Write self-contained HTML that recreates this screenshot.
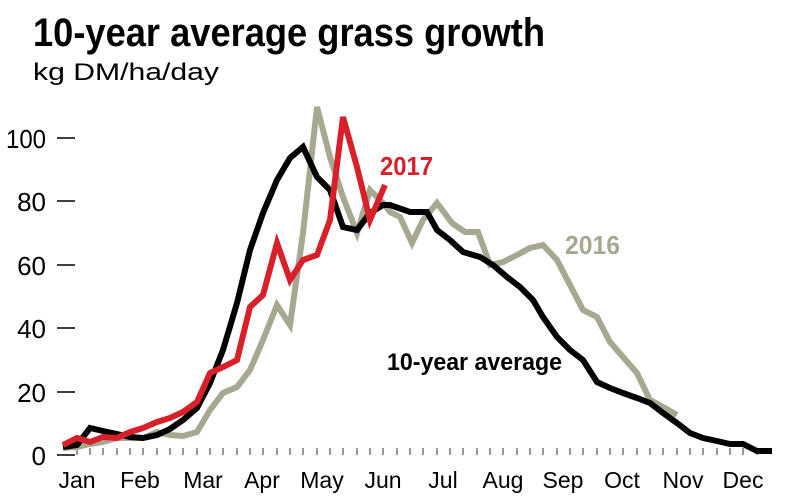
<!DOCTYPE html>
<html><head><meta charset="utf-8"><style>
html,body{margin:0;padding:0;background:#fff;}
svg{display:block;}
text{font-family:"Liberation Sans Narrow","Liberation Sans",sans-serif;}
</style></head><body>
<svg width="790" height="500" viewBox="0 0 790 500">
<text x="33" y="46" font-size="40" font-weight="bold" fill="#000" textLength="512" lengthAdjust="spacingAndGlyphs">10-year average grass growth</text>
<text x="33" y="80" font-size="24" fill="#000" textLength="186" lengthAdjust="spacingAndGlyphs">kg DM/ha/day</text>
<g font-size="26" fill="#000" text-anchor="end">
<text x="46" y="148" textLength="40" lengthAdjust="spacingAndGlyphs">100</text><text x="46" y="211">80</text><text x="46" y="275">60</text>
<text x="46" y="338">40</text><text x="46" y="402">20</text><text x="46" y="465">0</text>
</g>
<g stroke="#000" stroke-width="1.5">
<line x1="57" y1="138" x2="75" y2="138"/><line x1="57" y1="201" x2="75" y2="201"/>
<line x1="57" y1="265" x2="75" y2="265"/><line x1="57" y1="328" x2="75" y2="328"/>
<line x1="57" y1="392" x2="75" y2="392"/><line x1="57" y1="455" x2="75" y2="455"/>
</g>
<g stroke="#333" stroke-width="1">
<line x1="77" y1="448" x2="77" y2="455"/><line x1="90" y1="448" x2="90" y2="455"/><line x1="103" y1="448" x2="103" y2="455"/><line x1="117" y1="448" x2="117" y2="455"/><line x1="130" y1="448" x2="130" y2="455"/><line x1="143" y1="448" x2="143" y2="455"/><line x1="157" y1="448" x2="157" y2="455"/><line x1="170" y1="448" x2="170" y2="455"/><line x1="183" y1="448" x2="183" y2="455"/><line x1="197" y1="448" x2="197" y2="455"/><line x1="210" y1="448" x2="210" y2="455"/><line x1="223" y1="448" x2="223" y2="455"/><line x1="237" y1="448" x2="237" y2="455"/><line x1="250" y1="448" x2="250" y2="455"/><line x1="263" y1="448" x2="263" y2="455"/><line x1="277" y1="448" x2="277" y2="455"/><line x1="290" y1="448" x2="290" y2="455"/><line x1="303" y1="448" x2="303" y2="455"/><line x1="317" y1="448" x2="317" y2="455"/><line x1="330" y1="448" x2="330" y2="455"/><line x1="343" y1="448" x2="343" y2="455"/><line x1="357" y1="448" x2="357" y2="455"/><line x1="370" y1="448" x2="370" y2="455"/><line x1="383" y1="448" x2="383" y2="455"/><line x1="397" y1="448" x2="397" y2="455"/><line x1="410" y1="448" x2="410" y2="455"/><line x1="423" y1="448" x2="423" y2="455"/><line x1="437" y1="448" x2="437" y2="455"/><line x1="450" y1="448" x2="450" y2="455"/><line x1="463" y1="448" x2="463" y2="455"/><line x1="477" y1="448" x2="477" y2="455"/><line x1="490" y1="448" x2="490" y2="455"/><line x1="503" y1="448" x2="503" y2="455"/><line x1="517" y1="448" x2="517" y2="455"/><line x1="530" y1="448" x2="530" y2="455"/><line x1="543" y1="448" x2="543" y2="455"/><line x1="557" y1="448" x2="557" y2="455"/><line x1="570" y1="448" x2="570" y2="455"/><line x1="583" y1="448" x2="583" y2="455"/><line x1="597" y1="448" x2="597" y2="455"/><line x1="610" y1="448" x2="610" y2="455"/><line x1="623" y1="448" x2="623" y2="455"/><line x1="637" y1="448" x2="637" y2="455"/><line x1="650" y1="448" x2="650" y2="455"/><line x1="663" y1="448" x2="663" y2="455"/><line x1="677" y1="448" x2="677" y2="455"/><line x1="690" y1="448" x2="690" y2="455"/><line x1="703" y1="448" x2="703" y2="455"/><line x1="717" y1="448" x2="717" y2="455"/><line x1="730" y1="448" x2="730" y2="455"/><line x1="743" y1="448" x2="743" y2="455"/><line x1="757" y1="448" x2="757" y2="455"/>
</g>
<g font-size="23" fill="#000" text-anchor="middle">
<text x="77" y="488">Jan</text><text x="140" y="488">Feb</text><text x="203" y="488">Mar</text>
<text x="262" y="488">Apr</text><text x="322" y="488">May</text><text x="383" y="488">Jun</text>
<text x="443" y="488">Jul</text><text x="503" y="488">Aug</text><text x="563" y="488">Sep</text>
<text x="622" y="488">Oct</text><text x="683" y="488">Nov</text><text x="743" y="488">Dec</text>
</g>
<polyline fill="none" stroke="#a8a890" stroke-width="6" points="63,448 77,447 90,444 103,442 117,438 130,438 143,438 157,432 170,435 183,436 197,432 210,410 223,393 237,387 250,370 263,340 277,305 290,325 303,233 317,107 330,157 343,197 357,233 370,190 383,203 390,212 400,217 412,243 423,220 437,203 452,223 465,232 478,232 490,265 503,262 517,255 530,248 543,245 557,260 570,285 583,310 597,317 610,342 623,357 637,373 650,400 663,407 677,415"/>
<polyline fill="none" stroke="#000" stroke-width="6" points="63,447 77,445 90,428 103,431 117,434 130,437 143,438 157,435 170,429 183,420 197,408 210,383 223,350 237,303 250,250 263,213 277,180 290,158 303,147 317,177 330,190 343,227 357,230 370,213 383,205 390,205 410,212 427,212 437,230 450,240 463,252 480,257 493,265 507,277 520,287 533,300 543,317 557,337 570,350 583,360 597,382 610,388 623,393 637,398 650,403 663,413 677,423 690,433 703,438 717,441 730,444 743,444 757,451 772,451"/>
<polyline fill="none" stroke="#d8202a" stroke-width="6" points="63,445 77,438 90,442 103,437 117,438 130,432 143,428 157,422 170,418 183,412 197,402 210,373 223,367 237,360 250,307 263,295 277,243 290,280 303,260 317,255 330,220 343,117 357,167 370,220 385,185"/>
<text x="380" y="175" font-size="26" font-weight="bold" fill="#d8202a" textLength="53" lengthAdjust="spacingAndGlyphs">2017</text>
<text x="565" y="254" font-size="26" font-weight="bold" fill="#a8a890" textLength="55" lengthAdjust="spacingAndGlyphs">2016</text>
<text x="387" y="370" font-size="24" font-weight="bold" fill="#000" textLength="175" lengthAdjust="spacingAndGlyphs">10-year average</text>
</svg>
</body></html>
